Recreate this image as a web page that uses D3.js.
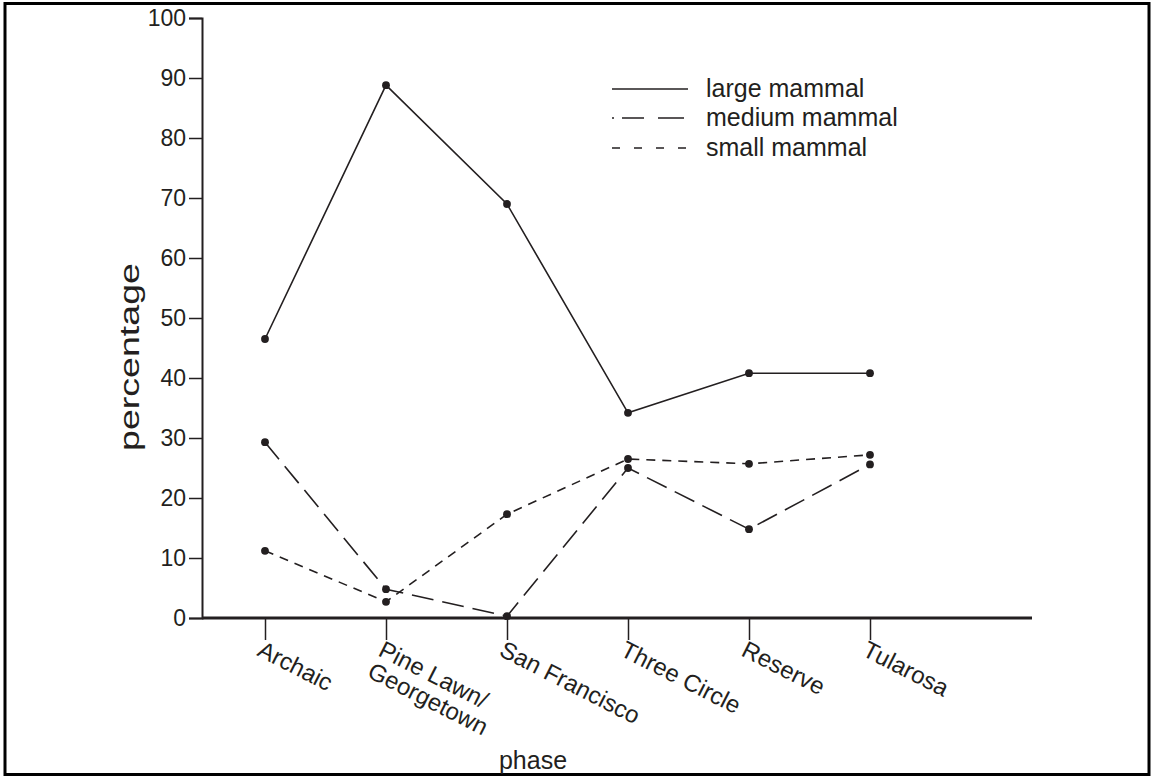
<!DOCTYPE html>
<html><head><meta charset="utf-8">
<script src="https://cdn.jsdelivr.net/npm/d3@7"></script>
<style>
html,body{margin:0;padding:0;background:#fff;}
text{font-family:"Liberation Sans",Arial,Helvetica,sans-serif;fill:#231f20;}
</style></head>
<body><svg id="c" width="1151" height="777"></svg>
<script>
const phases = ["Archaic", "Pine Lawn/\nGeorgetown", "San Francisco", "Three Circle", "Reserve", "Tularosa"];
const largeMammal  = [46.5, 88.8, 69.0, 34.2, 40.8, 40.8];
const mediumMammal = [29.3, 4.8, 0.3, 25.0, 14.8, 25.6];
const smallMammal  = [11.2, 2.7, 17.3, 26.5, 25.7, 27.2];
const yTicks = [0, 10, 20, 30, 40, 50, 60, 70, 80, 90, 100];
const seriesNames = ["large mammal", "medium mammal", "small mammal"];

const ink = "#231f20";
const svg = d3.select("#c");

// frame
svg.append("rect").attr("x", 5).attr("y", 3.5).attr("width", 1144).attr("height", 771)
  .attr("fill", "none").attr("stroke", "#000").attr("stroke-width", 3);

const x = d3.scalePoint().domain(phases).range([265, 870]);
const y = d3.scaleLinear().domain([0, 100]).range([618, 18]);
const axisX0 = 202, axisX1 = 1032;

// y axis
const ya = svg.append("g").attr("transform", `translate(${axisX0},0)`)
  .call(d3.axisLeft(y).tickValues(yTicks).tickSize(13).tickPadding(3));
ya.select(".domain").attr("stroke", ink).attr("stroke-width", 2);
ya.selectAll(".tick line").attr("stroke", ink).attr("stroke-width", 1.5);
ya.selectAll(".tick text").attr("font-size", 23).attr("fill", ink)
  .attr("font-family", "Liberation Sans, Arial, sans-serif");

// x axis
const xa = svg.append("g").attr("transform", `translate(0,${y(0)})`)
  .call(d3.axisBottom(x).tickSize(22).tickFormat(""));
xa.select(".domain").remove();
xa.selectAll(".tick line").attr("stroke", ink).attr("stroke-width", 1.5);
svg.append("line").attr("x1", axisX0).attr("x2", axisX1).attr("y1", y(0)).attr("y2", y(0))
  .attr("stroke", ink).attr("stroke-width", 3);

// rotated category labels
const lab = svg.append("g");
phases.forEach(p => {
  const t = lab.append("text")
    .attr("transform", `translate(${x(p) - 9},${y(0) + 37}) rotate(27)`)
    .attr("font-size", 24).attr("text-anchor", "start");
  p.split("\n").forEach((ln, i) => {
    t.append("tspan").attr("x", 0).attr("dy", i === 0 ? 0 : "1.0em").text(ln);
  });
});

// axis titles
svg.append("text").attr("transform", `translate(139,357) rotate(-90)`)
  .attr("text-anchor", "middle").attr("font-size", 27)
  .attr("textLength", 188).attr("lengthAdjust", "spacingAndGlyphs").text("percentage");
svg.append("text").attr("x", 533).attr("y", 769)
  .attr("text-anchor", "middle").attr("font-size", 25).text("phase");

// series
const series = [
  {name: seriesNames[0], vals: largeMammal, dash: null, legDash: null},
  {name: seriesNames[1], vals: mediumMammal, dash: "22,9", legDash: "2,8,22,14,26,40"},
  {name: seriesNames[2], vals: smallMammal, dash: "9,7", legDash: "8,14"}
];
const line = d3.line().x((d, i) => x(phases[i])).y(d => y(d));
series.forEach(s => {
  svg.append("path").datum(s.vals).attr("d", line)
    .attr("fill", "none").attr("stroke", ink).attr("stroke-width", 1.6)
    .attr("stroke-dasharray", s.dash);
});
series.forEach(s => {
  svg.append("g").selectAll("circle").data(s.vals).join("circle")
    .attr("cx", (d, i) => x(phases[i])).attr("cy", d => y(d)).attr("r", 3.9).attr("fill", ink);
});

// legend
const legY = [89, 118, 148];
series.forEach((s, i) => {
  svg.append("line").attr("x1", 612).attr("x2", 688).attr("y1", legY[i]).attr("y2", legY[i])
    .attr("stroke", ink).attr("stroke-width", 1.6).attr("stroke-dasharray", s.legDash);
  svg.append("text").attr("x", 706).attr("y", legY[i] + 8).attr("font-size", 25).text(s.name);
});
</script></body></html>
